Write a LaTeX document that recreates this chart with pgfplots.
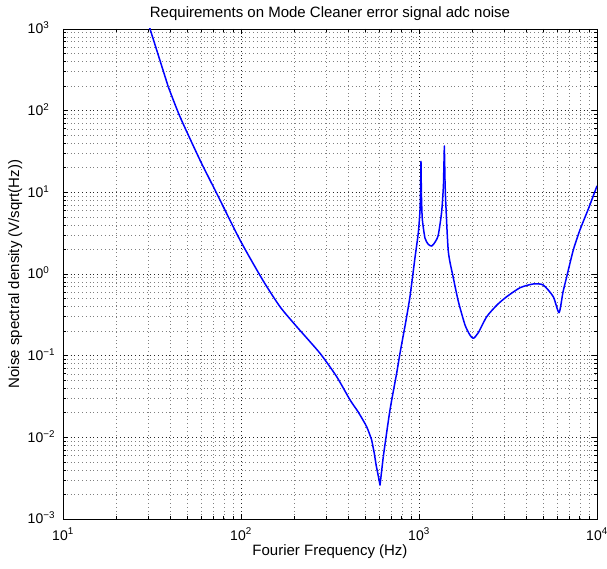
\documentclass[border=0pt]{standalone}
\usepackage{fontspec}
\setmainfont{Liberation Sans}
\usepackage{pgfplots}
\pgfplotsset{compat=1.18}
\begin{document}
\begin{tikzpicture}
\useasboundingbox (-63pt,-50pt) rectangle (544pt,519pt);
\begin{axis}[
  scale only axis,
  width=534pt, height=490pt,
  xmode=log, ymode=log,
  xmin=10, xmax=10000, ymin=0.001, ymax=1000,
  axis line style={black, line width=0.8pt},
  grid=both,
  major grid style={black!85, line width=0.5pt, dash pattern=on 0.8pt off 3pt},
  minor grid style={black!50, line width=0.5pt, dash pattern=on 0.8pt off 3pt},
  tick align=inside,
  xtick pos=both, ytick pos=both,
  major tick length=5pt, minor tick length=3pt,
  tick style={black, line width=0.6pt},
  xtick={10,100,1000,10000},
  xticklabels={10\textsuperscript{1},10\textsuperscript{2},10\textsuperscript{3},10\textsuperscript{4}},
  ytick={0.001,0.01,0.1,1,10,100,1000},
  yticklabels={10\rlap{\textsuperscript{−3}},10\rlap{\textsuperscript{−2}},10\rlap{\textsuperscript{−1}},10\rlap{\textsuperscript{0}},10\rlap{\textsuperscript{1}},10\rlap{\textsuperscript{2}},10\rlap{\textsuperscript{3}}},
  xticklabel style={font=\fontsize{14}{16}\selectfont, inner sep=0pt, anchor=base, yshift=-21pt},
  yticklabel style={font=\fontsize{14}{16}\selectfont, inner sep=0pt, anchor=base east, xshift=-19.5pt, yshift=-4.9pt},
  title={Requirements on Mode Cleaner error signal adc noise},
  title style={font=\fontsize{15}{17}\selectfont, at={(axis description cs:0.5,1.012)}, anchor=base, inner sep=0pt},
  xlabel={Fourier Frequency (Hz)},
  xlabel style={font=\fontsize{15}{17}\selectfont, at={(axis description cs:0.5,-0.0755)}, anchor=base, inner sep=0pt},
  ylabel={Noise spectral density (V/sqrt(Hz))},
  ylabel style={font=\fontsize{15}{17}\selectfont, at={(axis description cs:-0.0824,0.5)}, anchor=base, inner sep=0pt},
]
\addplot[blue, no marks, solid, line width=1.5pt, line join=round] coordinates {(30,1210) (39,197)};
\addplot[blue, no marks, solid, line width=1.5pt, line join=round, smooth, tension=0.4] coordinates {
(39,197)
(45.4,84.4)
(58.8,24.9)
(73.0,9.73)
(98.7,2.61)
(132.4,0.845)
(165.6,0.398)
(205.6,0.2265)
(277.8,0.107)
(344.8,0.0553)
(409.8,0.0287)
(455,0.0205)
(508,0.0135)
(542,0.0093)
};
\addplot[blue, no marks, solid, line width=1.5pt, line join=round] coordinates {(542,0.0093) (560,0.0065) (575,0.0045) (590,0.0034) (604,0.0026) (630,0.0058)};
\addplot[blue, no marks, solid, line width=1.5pt, line join=round, smooth, tension=0.4] coordinates {
(630,0.0058)
(687,0.0216)
(749,0.0608)
(782,0.107)
(840,0.25)
(890,0.53)
(950,1.6)
(991,3.2)
(1013,6.0)
(1021,11)
};
\addplot[blue, no marks, solid, line width=1.5pt, line join=round] coordinates {(1021,11) (1026,24) (1031,10)};
\addplot[blue, no marks, solid, line width=1.5pt, line join=round, smooth, tension=0.4] coordinates {
(1031,10)
(1043,4.8)
(1081,2.74)
(1130,2.3)
(1178,2.2)
(1230,2.45)
(1283,3.0)
(1341,5.8)
(1372,12)
};
\addplot[blue, no marks, solid, line width=1.5pt, line join=round] coordinates {(1372,12) (1388,37) (1400,14)};
\addplot[blue, no marks, solid, line width=1.5pt, line join=round, smooth, tension=0.4] coordinates {
(1400,14)
(1413,7.7)
(1462,1.87)
(1561,0.885)
(1665,0.458)
(1813,0.238)
(1930,0.18)
(2018,0.163)
(2150,0.19)
(2401,0.300)
(2750,0.42)
(3109,0.527)
(3700,0.68)
(4386,0.755)
(4990,0.733)
(5680,0.527)
(6120,0.336)
(6440,0.6)
(6760,0.927)
(7360,1.97)
(8020,3.46)
(9000,6.5)
(10000,12.0)
};
\end{axis}
\end{tikzpicture}
\end{document}
